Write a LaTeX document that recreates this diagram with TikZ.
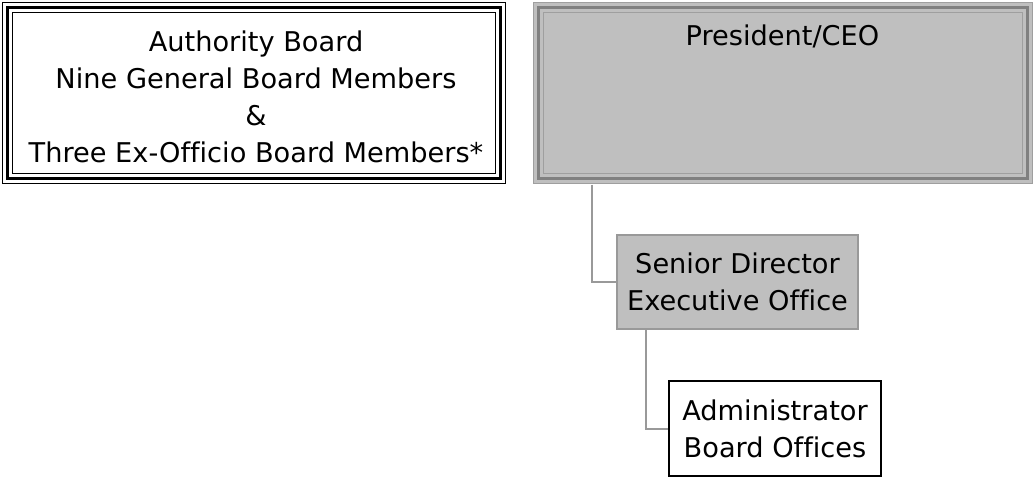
\documentclass[tikz,border=0pt]{standalone}
\usepackage{fontspec}
\setmainfont[Ligatures=NoCommon]{DejaVu Sans}
\begin{document}
\begin{tikzpicture}[
  x=0.5pt, y=-0.5pt,
  every node/.style={align=center, inner sep=0pt, font=\fontsize{13.6}{18.5}\selectfont},
  board/.style={draw=black, line width=1.5pt,
    preaction={draw=black, line width=0.5pt, double=white, double distance=4.5pt}},
  ceo/.style={draw=gray, line width=1.5pt,
    preaction={fill=gray!50},
    preaction={draw=gray!75, line width=0.5pt, double=gray!50, double distance=4.5pt}},
  office/.style={draw=gray!80, fill=gray!50, line width=0.6pt},
  staff/.style={draw=black, fill=white, line width=0.6pt},
  link/.style={draw=gray!80, line width=1pt}
]
  \useasboundingbox (0,0) rectangle (1034,479);

  % top row
  \node[board, minimum width=246.5pt, minimum height=85.5pt] (board) at (253.5,92.5) {};
  \node (boardtext) at (256,97)
    {Authority Board\\Nine General Board Members\\\&\\Three Ex-Officio Board Members*};
  \node[ceo, minimum width=244.5pt, minimum height=85.5pt,
    label={[anchor=base, yshift=-20pt]north:President/CEO}] (ceo) at (782.5,92.5) {};

  % reports
  \node[office, minimum width=120.5pt, minimum height=47pt] (senior) at (737.5,282)
    {Senior Director\\Executive Office};
  \node[staff, minimum width=106pt, minimum height=47.5pt] (admin) at (775,428.5)
    {Administrator\\Board Offices};

  \draw[link] ([xshift=27.5pt, yshift=-2.5pt]ceo.south west) |- (senior.west);
  \draw[link] ([xshift=15pt]senior.south west) |- (admin.west);
\end{tikzpicture}
\end{document}
